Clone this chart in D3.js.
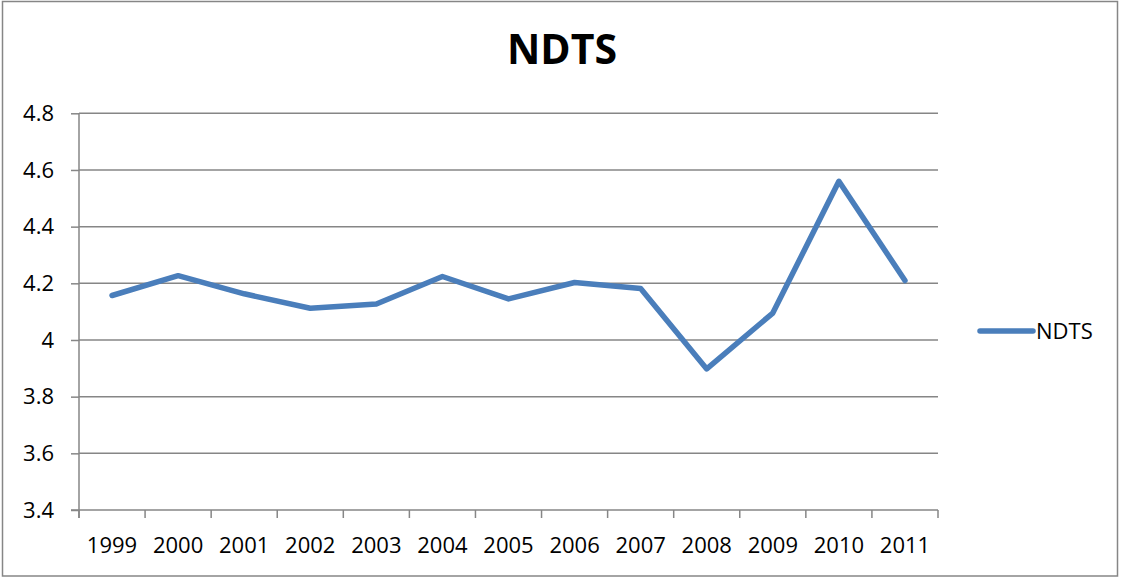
<!DOCTYPE html>
<html>
<head>
<meta charset="utf-8">
<script src="https://cdn.jsdelivr.net/npm/d3@7"></script>
<style>
  body { margin: 0; background: #fff; }
  text { font-family: "Open Sans", "Noto Sans", sans-serif; fill: #000; }
</style>
</head>
<body>
<div id="chart"></div>
<script>
var years = ['1999', '2000', '2001', '2002', '2003', '2004', '2005', '2006', '2007', '2008', '2009', '2010', '2011'];
var ndts = [4.157, 4.227, 4.163, 4.112, 4.127, 4.224, 4.145, 4.203, 4.182, 3.898, 4.095, 4.56, 4.21];
var yTicks = [3.4, 3.6, 3.8, 4, 4.2, 4.4, 4.6, 4.8];
var seriesName = 'NDTS';

var W = 1123, H = 578;
var plotL = 79, plotR = 938, plotT = 113.3, plotB = 510;
var grey = '#868686', blue = '#4a7ebb';

var svg = d3.select('#chart').append('svg')
    .attr('width', W)
    .attr('height', H);

// outer frame
svg.append('rect')
    .attr('x', 2.5).attr('y', 1.5)
    .attr('width', 1115).attr('height', 574.5)
    .attr('fill', '#fff')
    .attr('stroke', grey)
    .attr('stroke-width', 1.5);

svg.append('text')
    .attr('x', 562).attr('y', 64)
    .attr('text-anchor', 'middle')
    .style('font-size', '41px')
    .style('font-weight', 'bold')
    .text(seriesName);

var x = d3.scaleBand().domain(years).range([plotL, plotR]).padding(0);
var y = d3.scaleLinear().domain([3.4, 4.8]).range([plotB, plotT]);

// gridlines
svg.append('g').selectAll('line').data(yTicks.slice(1)).enter().append('line')
    .attr('x1', plotL).attr('x2', plotR)
    .attr('y1', function(d) { return y(d); })
    .attr('y2', function(d) { return y(d); })
    .attr('stroke', grey)
    .attr('stroke-width', 1.5);

// y axis
var yAxis = svg.append('g')
    .attr('transform', 'translate(' + plotL + ',0)')
    .call(d3.axisLeft(y).tickValues(yTicks).tickSize(8).tickPadding(17).tickFormat(d3.format('')));
yAxis.select('.domain').attr('d', 'M0,' + plotT + 'V' + (plotB + 8));
yAxis.selectAll('line, .domain').attr('stroke', grey).attr('stroke-width', 1.5);
yAxis.selectAll('text').style('font-size', '22px').attr('fill', '#000');

// x axis: ticks sit between categories
var xAxis = svg.append('g')
    .attr('transform', 'translate(0,' + plotB + ')');
xAxis.append('line')
    .attr('x1', plotL - 8).attr('x2', plotR)
    .attr('stroke', grey).attr('stroke-width', 1.5);
var bounds = years.map(function(d) { return x(d); }).concat([x(years[years.length - 1]) + x.bandwidth()]);
xAxis.selectAll('.tk').data(bounds).enter().append('line')
    .attr('class', 'tk')
    .attr('x1', function(d) { return d; })
    .attr('x2', function(d) { return d; })
    .attr('y1', 0).attr('y2', 8)
    .attr('stroke', grey).attr('stroke-width', 1.5);
xAxis.selectAll('text').data(years).enter().append('text')
    .attr('x', function(d) { return x(d) + x.bandwidth() / 2; })
    .attr('y', 43)
    .attr('text-anchor', 'middle')
    .style('font-size', '22px')
    .text(function(d) { return d; });

// series line
var line = d3.line()
    .x(function(d, i) { return x(years[i]) + x.bandwidth() / 2; })
    .y(function(d) { return y(d); });

svg.append('path')
    .datum(ndts)
    .attr('d', line)
    .attr('fill', 'none')
    .attr('stroke', blue)
    .attr('stroke-width', 5.5)
    .attr('stroke-linejoin', 'round')
    .attr('stroke-linecap', 'round');

// legend
var lg = svg.append('g').attr('transform', 'translate(980,331)');
lg.append('line')
    .attr('x1', 0).attr('x2', 53)
    .attr('stroke', blue).attr('stroke-width', 5.5)
    .attr('stroke-linecap', 'round');
lg.append('text')
    .attr('x', 56).attr('y', 8)
    .style('font-size', '22px')
    .text(seriesName);
</script>
</body>
</html>
